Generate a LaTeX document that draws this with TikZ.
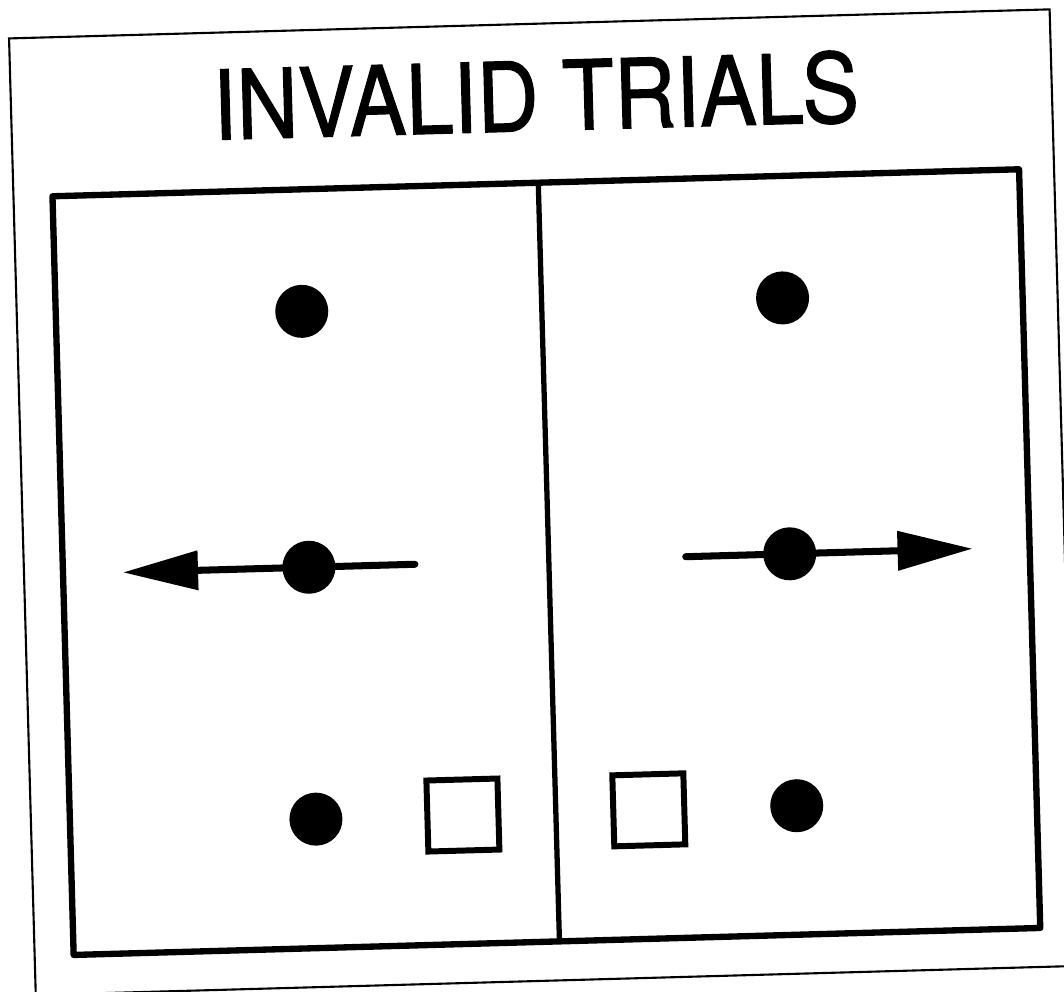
\documentclass[tikz,border=0pt]{standalone}
\usepackage{fontspec}
\setmainfont{TeX Gyre Heros}
\newfontfamily\headfont{TeX Gyre Heros}[FakeBold=1.2]
\usetikzlibrary{arrows.meta, positioning}

\tikzset{
  dot/.style={circle, fill=black, inner sep=0pt, minimum size=0.53cm},
  cue/.style={draw=black, line width=1.7pt, fill=white, inner sep=0pt, minimum size=0.71cm},
  motion/.style={line width=2pt, line cap=round, -{Triangle[length=0.75cm, width=0.38cm]}},
  panel/.style={line width=1.8pt, line join=round},
}

\begin{document}
\begin{tikzpicture}[x=0.01cm, y=-0.01cm]
  % page area, sheet slightly turned inside it
  \useasboundingbox (0,0) rectangle (1064,992);
  \fill[white] (0,0) rectangle (1064,992);
  \clip (0,0) rectangle (1064,992);
  \begin{scope}[rotate around={1.6:(532,496)}, transform shape]
    % outer frame and heading
    \draw[line width=0.6pt] (22,24) rectangle (1063,981);
    \node[font=\headfont\fontsize{24}{28}\selectfont, xscale=1.01, yscale=1.14] (title) at (547,96) {INVALID TRIALS};
    % display with its two halves
    \draw[panel] (61,183) rectangle (1028,942);
    \draw[line width=1.5pt] (547,183) -- (547,942);
    % left half: motion to the left
    \coordinate (ltail) at (413,561);
    \coordinate (ltip) at (121,561);
    \draw[motion] (ltail) -- (ltip);
    \node[dot] (ltop) at (307,305) {};
    \node[dot] (lmid) at (307,561) {};
    \node[dot] (lbot) at (307,813) {};
    \node[cue] (lcue) at (454,813) {};
    % right half: motion to the right
    \coordinate (rtail) at (684,561);
    \coordinate (rtip) at (971,561);
    \draw[motion] (rtail) -- (rtip);
    \node[dot] (rtop) at (788,305) {};
    \node[dot] (rmid) at (788,561) {};
    \node[dot] (rbot) at (788,813) {};
    \node[cue] (rcue) at (640,813) {};
  \end{scope}
\end{tikzpicture}
\end{document}
